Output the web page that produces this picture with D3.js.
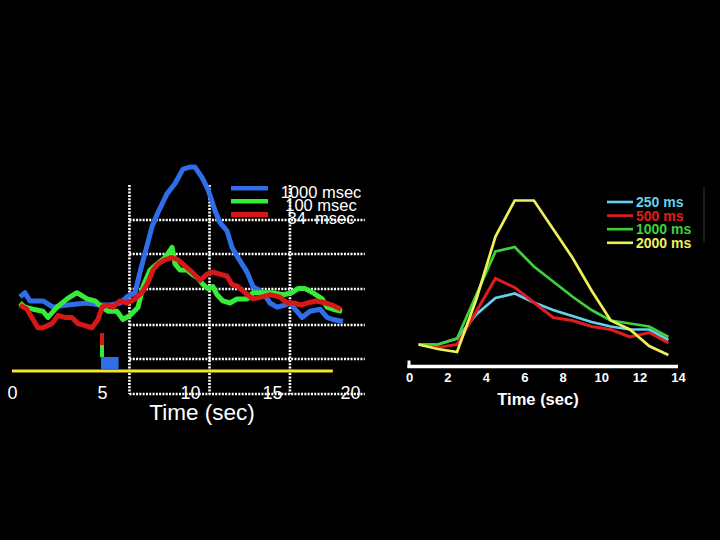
<!DOCTYPE html>
<html><head><meta charset="utf-8">
<script src="https://cdn.jsdelivr.net/npm/d3@7"></script>
<style>
html,body{margin:0;padding:0;background:#000;}
svg{display:block;}
text{font-family:"Liberation Sans",Arial,sans-serif;}
</style></head>
<body>
<script>
// ---------- LEFT PANEL DATA (time in sec, signal in arbitrary units) ----------
const leftTickLabels = [0, 5, 10, 15, 20];
const leftSeriesNames = ["1000 msec", "100 msec", "34  msec"];
const stimDurations = [1.0, 0.1, 0.034];   // sec, blue / green / red
const stimOnset = 5;
const gridTimes = [6.56, 11.19, 16.15];
const gridLevels = [0.733, 0.568, 0.398, 0.223, 0.058, -0.112];

const blue1000 = [[0.44,0.36],[0.72,0.38],[1.0,0.34],[1.72,0.34],[2.28,0.31],[3.06,0.32],[4.17,0.33],[4.89,0.32],
 [5.45,0.32],[6.02,0.33],[6.42,0.36],[6.88,0.38],[7.16,0.48],[7.44,0.57],[7.84,0.70],[8.13,0.76],[8.69,0.86],
 [9.15,0.91],[9.6,0.98],[10.0,0.99],[10.3,0.99],[10.73,0.94],[11.1,0.88],[11.52,0.78],[11.83,0.72],[12.26,0.68],
 [12.56,0.60],[12.93,0.55],[13.48,0.48],[13.84,0.41],[14.45,0.38],[14.88,0.33],[15.32,0.31],[15.83,0.32],
 [16.15,0.33],[16.6,0.29],[16.92,0.26],[17.44,0.29],[18.08,0.30],[18.53,0.26],[18.9,0.25],[19.55,0.24]];
const green100 = [[0.44,0.33],[0.72,0.31],[1.17,0.30],[1.72,0.29],[2.0,0.26],[2.5,0.31],[3.06,0.35],[3.61,0.38],
 [4.17,0.35],[4.61,0.34],[5.0,0.31],[5.34,0.29],[5.85,0.29],[6.19,0.25],[6.59,0.27],[7.05,0.31],[7.33,0.41],
 [7.73,0.49],[8.13,0.52],[8.58,0.55],[8.98,0.60],[9.15,0.52],[9.43,0.49],[9.83,0.49],[10.12,0.47],[10.49,0.45],
 [10.79,0.42],[11.1,0.40],[11.4,0.41],[11.65,0.37],[12.01,0.34],[12.44,0.33],[12.87,0.35],[13.48,0.35],
 [13.84,0.38],[14.45,0.38],[15.06,0.38],[15.71,0.37],[16.28,0.38],[16.67,0.40],[17.12,0.40],[17.63,0.38],
 [18.21,0.35],[18.53,0.31],[18.9,0.30],[19.49,0.29]];
const red34 = [[0.44,0.32],[0.83,0.30],[1.17,0.25],[1.44,0.21],[1.72,0.21],[2.22,0.23],[2.56,0.27],[2.94,0.26],
 [3.33,0.26],[3.67,0.23],[4.06,0.22],[4.44,0.21],[4.78,0.25],[5.0,0.31],[5.28,0.32],[5.63,0.31],[6.02,0.34],
 [6.42,0.33],[6.88,0.35],[7.27,0.38],[7.61,0.43],[7.90,0.49],[8.18,0.52],[8.58,0.54],[8.98,0.55],[9.32,0.54],
 [9.72,0.51],[10.12,0.48],[10.61,0.44],[11.04,0.47],[11.4,0.48],[11.83,0.47],[12.26,0.46],[12.56,0.42],
 [12.93,0.41],[13.35,0.38],[13.84,0.35],[14.39,0.36],[14.88,0.37],[15.49,0.36],[15.98,0.33],[16.41,0.33],
 [16.86,0.32],[17.24,0.33],[17.82,0.34],[18.46,0.33],[18.85,0.32],[19.42,0.30]];
const baselineSpan = [0, 18.9];

// ---------- RIGHT PANEL DATA ----------
const rightTickLabels = [0, 2, 4, 6, 8, 10, 12, 14];
const rightTimes = [0.5,1.5,2.5,3.5,4.5,5.5,6.5,7.5,8.5,9.5,10.5,11.5,12.5,13.5];
const ms250  = [0.07,0.07,0.11,0.27,0.38,0.41,0.35,0.30,0.26,0.22,0.19,0.17,0.17,0.10];
const ms500  = [0.07,0.05,0.07,0.29,0.51,0.45,0.35,0.25,0.23,0.19,0.17,0.12,0.15,0.08];
const ms1000 = [0.07,0.07,0.11,0.40,0.69,0.72,0.59,0.49,0.39,0.30,0.23,0.21,0.19,0.12];
const ms2000 = [0.07,0.04,0.02,0.37,0.79,1.03,1.03,0.84,0.65,0.43,0.23,0.17,0.06,0.00];
const rightNames = ["250 ms", "500 ms", "1000 ms", "2000 ms"];

// ---------- DRAW ----------
const W = 720, H = 540;
const svg = d3.select("body").append("svg").attr("width", W).attr("height", H)
  .style("background", "#000");

// Left scales
const xL = d3.scaleLinear().domain([0, 5, 10, 15, 20]).range([12, 102, 190, 272, 350]);
const yL = d3.scaleLinear().domain([0, 1]).range([371, 165]);
const leftColors = ["#2f6ee8", "#36ec36", "#d81818"];

// grid
const gL = svg.append("g");
const gxMin = 6.56, gxMax = 20.95, gyMin = -0.112, gyMax = 0.903;
gL.selectAll("line.h").data(gridLevels).join("line").attr("class","h")
  .attr("x1", xL(gxMin)).attr("x2", xL(gxMax))
  .attr("y1", d => yL(d)).attr("y2", d => yL(d))
  .attr("stroke", "#fff").attr("stroke-width", 2.6).attr("stroke-dasharray", "2,1.3");
gL.selectAll("line.v").data(gridTimes).join("line").attr("class","v")
  .attr("x1", d => xL(d)).attr("x2", d => xL(d))
  .attr("y1", yL(gyMax)).attr("y2", yL(gyMin))
  .attr("stroke", "#fff").attr("stroke-width", 2.6).attr("stroke-dasharray", "2,1.3");

// baseline (yellow)
svg.append("line").attr("x1", xL(baselineSpan[0])).attr("x2", xL(baselineSpan[1]))
  .attr("y1", yL(0)).attr("y2", yL(0)).attr("stroke", "#f4e62a").attr("stroke-width", 3);

// stimulus markers
const stimBottom = 0.01, stimRow = 0.058;
// blue (1000 ms)
svg.append("rect").attr("x", xL(stimOnset) - 1).attr("y", yL(stimBottom + stimRow))
  .attr("width", xL(stimOnset + stimDurations[0]) - xL(stimOnset))
  .attr("height", yL(stimBottom) - yL(stimBottom + stimRow)).attr("fill", leftColors[0]);
// green (100 ms) and red (34 ms)
[1, 2].forEach(i => {
  const w = Math.max(4, xL(stimOnset + stimDurations[i]) - xL(stimOnset));
  svg.append("rect").attr("x", xL(stimOnset) - 2)
    .attr("y", yL(stimBottom + stimRow * (i + 1)))
    .attr("width", w).attr("height", yL(stimBottom) - yL(stimBottom + stimRow))
    .attr("fill", leftColors[i]);
});

// lines
const lineL = d3.line().x(d => xL(d[0])).y(d => yL(d[1])).curve(d3.curveLinear);
[blue1000, green100, red34].forEach((s, i) => {
  svg.append("path").datum(s).attr("d", lineL).attr("fill", "none")
    .attr("stroke", leftColors[i]).attr("stroke-width", 5).attr("stroke-linejoin", "round");
});

// left axis labels
const axL = svg.append("g").attr("transform", "translate(0,381)")
  .call(d3.axisBottom(xL).tickValues(leftTickLabels).tickFormat(d3.format("d")).tickSize(0).tickPadding(5));
axL.select(".domain").remove();
axL.selectAll("text").attr("fill", "#fff").style("font-size", "18px")
  .style("font-family", "'Liberation Sans',Arial,sans-serif");
svg.append("text").attr("x", 202).attr("y", 420).attr("text-anchor", "middle")
  .attr("fill", "#fff").style("font-size", "22.5px").text("Time (sec)");

// left legend
leftSeriesNames.forEach((n, i) => {
  svg.append("rect").attr("x", 231).attr("y", 186 + i * 13).attr("width", 37).attr("height", i === 2 ? 5 : 4.5)
    .attr("fill", leftColors[i]);
  svg.append("text").attr("x", 321).attr("y", 198 + i * 13).attr("text-anchor", "middle")
    .attr("fill", "#fff").style("font-size", "16.5px").style("white-space", "pre")
    .attr("xml:space", "preserve").text(n);
});

// ---------- RIGHT PANEL ----------
const xR = d3.scaleLinear().domain([0, 14]).range([409, 678]);
const yR = d3.scaleLinear().domain([0, 1]).range([355, 205]);
const rightColors = ["#62d2ee", "#e01c1c", "#3dd23a", "#eef057"];
const rightSeries = [ms250, ms500, ms1000, ms2000];
const lineR = d3.line().x((d, i) => xR(rightTimes[i])).y(d => yR(d));
rightSeries.forEach((s, i) => {
  svg.append("path").datum(s).attr("d", lineR).attr("fill", "none")
    .attr("stroke", rightColors[i]).attr("stroke-width", i === 1 ? 3 : 2.7).attr("stroke-linejoin", "miter");
});

// axis bar
svg.append("line").attr("x1", xR(0) - 1.5).attr("x2", xR(14)).attr("y1", 366.5).attr("y2", 366.5)
  .attr("stroke", "#fff").attr("stroke-width", 3.5);
svg.append("line").attr("x1", xR(0)).attr("x2", xR(0)).attr("y1", 360.5).attr("y2", 368)
  .attr("stroke", "#fff").attr("stroke-width", 3);
const axR = svg.append("g").attr("transform", "translate(0,366.5)")
  .call(d3.axisBottom(xR).tickValues(rightTickLabels).tickFormat(d3.format("d")).tickSize(0).tickPadding(6));
axR.select(".domain").remove();
axR.selectAll("text").attr("fill", "#fff").style("font-size", "13px").style("font-weight", "bold")
  .style("font-family", "'Liberation Sans',Arial,sans-serif");
svg.append("text").attr("x", 538).attr("y", 405).attr("text-anchor", "middle")
  .attr("fill", "#fff").style("font-size", "16.5px").style("font-weight", "bold").text("Time (sec)");

// right legend
rightNames.forEach((n, i) => {
  const yy = 202 + i * 13.6;
  svg.append("line").attr("x1", 607).attr("x2", 633).attr("y1", yy).attr("y2", yy)
    .attr("stroke", rightColors[i]).attr("stroke-width", 2.6);
  svg.append("text").attr("x", 636).attr("y", yy + 5).attr("fill", rightColors[i])
    .style("font-size", "14px").style("font-weight", "bold").text(n);
});
svg.append("line").attr("x1", 704).attr("x2", 704).attr("y1", 187).attr("y2", 243)
  .attr("stroke", "#3a3a3a").attr("stroke-width", 1);
</script>
</body></html>
